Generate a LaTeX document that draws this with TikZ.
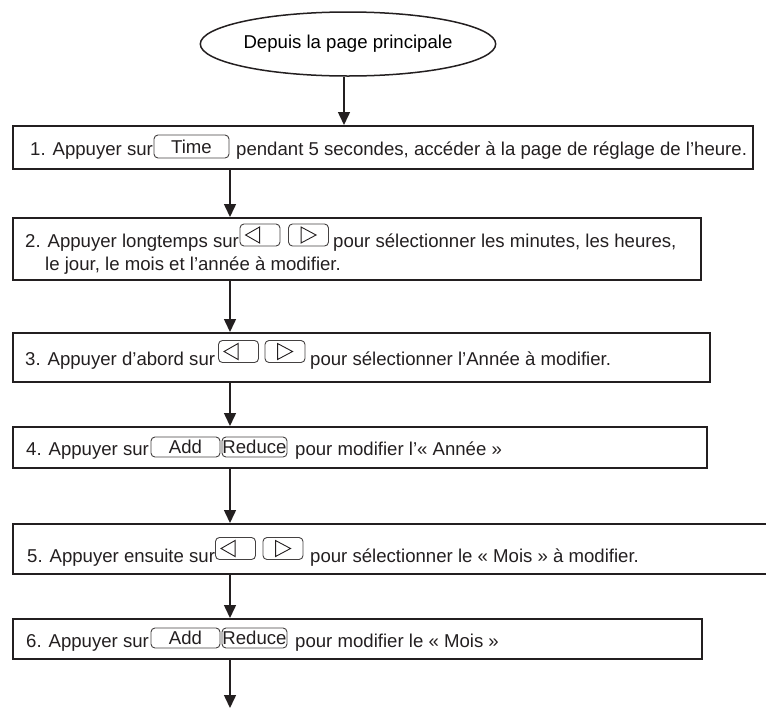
\documentclass[tikz,border=0pt]{standalone}
\usepackage{fontspec}
\setmainfont{Liberation Sans}
\usetikzlibrary{arrows.meta,shapes.geometric}
\definecolor{ink}{RGB}{35,31,32}
\tikzset{
  stepbox/.style={draw=ink,line width=1.5pt,inner sep=0,anchor=north west},
  startshape/.style={ellipse,draw=ink,line width=1.5pt,inner sep=0,minimum width=250pt,minimum height=64pt},
  txt/.style={inner sep=0,anchor=base west,text=ink},
  key/.style={draw=ink!85,line width=0.9pt,rounded corners=4pt,inner sep=0,text height=13.4pt,text depth=0pt,text=ink},
  tri/.style={draw=ink,line width=0.9pt,line join=miter},
  arr/.style={draw=ink,line width=1.5pt,-{Triangle[length=13pt,width=12pt]}}
}
\begin{document}
\begin{tikzpicture}[x=1pt,y=-1pt,font=\fontsize{18.6}{22}\selectfont]
\useasboundingbox (0,0) rectangle (766,710);
% start
\node[startshape] (start) at (348,44) {Depuis la page principale};
% boxes
\node[stepbox,minimum width=740pt,minimum height=43pt] (s1) at (12,125) {};
\node[stepbox,minimum width=688pt,minimum height=62pt] (s2) at (12,217) {};
\node[stepbox,minimum width=697pt,minimum height=49pt] (s3) at (12,332) {};
\node[stepbox,minimum width=694pt,minimum height=41pt] (s4) at (12,426) {};
\node[stepbox,minimum width=768pt,minimum height=50pt] (s5) at (12,523) {};
\node[stepbox,minimum width=689pt,minimum height=40pt] (s6) at (12,618) {};
% texts
\node[txt] (s1a) at (30,155) {1. Appuyer sur};
\node[key,minimum width=75pt,minimum height=23pt] (time) at (191.5,146.5) {Time};
\node[txt] (s1b) at (236,155) {pendant 5 secondes, accéder à la page de réglage de l’heure.};
\node[txt] (s2a) at (25,247) {2. Appuyer longtemps sur};
\node[txt] (s2b) at (333,247) {pour sélectionner les minutes, les heures,};
\node[txt] (s2c) at (45,270.5) {le jour, le mois et l’année à modifier.};
\node[txt] (s3a) at (25,365) {3. Appuyer d’abord sur};
\node[txt] (s3b) at (310,365) {pour sélectionner l’Année à modifier.};
\node[txt] (s4a) at (26,455) {4. Appuyer sur};
\node[key,minimum width=69pt,minimum height=20pt] (add4) at (185.5,447) {Add};
\node[key,minimum width=65pt,minimum height=20pt] (red4) at (254.5,447) {Reduce};
\node[txt] (s4b) at (295,455) {pour modifier l’« Année »};
\node[txt] (s5a) at (27,562) {5. Appuyer ensuite sur};
\node[txt] (s5b) at (310,562) {pour sélectionner le « Mois » à modifier.};
\node[txt] (s6a) at (26,647) {6. Appuyer sur};
\node[key,minimum width=69pt,minimum height=20pt] (add6) at (185.5,638) {Add};
\node[key,minimum width=65pt,minimum height=20pt] (red6) at (254.5,638) {Reduce};
\node[txt] (s6b) at (295,647) {pour modifier le « Mois »};
% arrow keys
\foreach \n/\xl/\xr/\y in {2/260/308.5/235, 3/238.5/285/351.5, 5/235.5/283/548.5}{
  \node[key,minimum width=40pt,minimum height=22pt] (kl\n) at (\xl,\y) {};
  \node[key,minimum width=40pt,minimum height=22pt] (kr\n) at (\xr,\y) {};
  \draw[tri] ([xshift=6pt]kl\n.west) -- ++(14pt,8pt) -- ++(0,-16pt) -- cycle;
  \draw[tri] ([xshift=13pt,yshift=8pt]kr\n.west) -- ++(15pt,-8pt) -- ++(-15pt,-8pt) -- cycle;
}
% arrows
\coordinate (fin) at (230,708);
\draw[arr] ([xshift=-4pt]start.south) -- ([xshift=-4pt]start.south |- s1.north);
\draw[arr] ([xshift=218pt]s1.south west) -- ([xshift=218pt]s2.north west);
\draw[arr] ([xshift=218pt]s2.south west) -- ([xshift=218pt]s3.north west);
\draw[arr] ([xshift=218pt]s3.south west) -- ([xshift=218pt]s4.north west);
\draw[arr] ([xshift=218pt]s4.south west) -- ([xshift=218pt]s5.north west);
\draw[arr] ([xshift=218pt]s5.south west) -- ([xshift=218pt]s6.north west);
\draw[arr] ([xshift=218pt]s6.south west) -- (fin);
\end{tikzpicture}
\end{document}
